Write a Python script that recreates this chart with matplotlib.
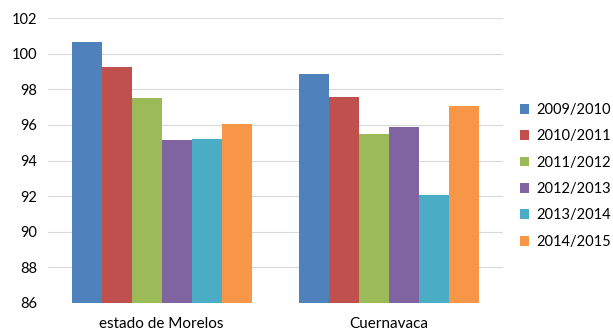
import matplotlib
matplotlib.use("Agg")
import matplotlib.pyplot as plt
import numpy as np

categories = ["estado de Morelos", "Cuernavaca"]
series = ["2009/2010", "2010/2011", "2011/2012", "2012/2013", "2013/2014", "2014/2015"]
values = {
    "2009/2010": [100.65, 98.83],
    "2010/2011": [99.24, 97.55],
    "2011/2012": [97.53, 95.47],
    "2012/2013": [95.14, 95.90],
    "2013/2014": [95.23, 92.05],
    "2014/2015": [96.06, 97.07],
}
colors = ["#4F81BD", "#C0504D", "#9BBB59", "#8064A2", "#4BACC6", "#F79646"]
yticks = [86, 88, 90, 92, 94, 96, 98, 100, 102]

plt.rcParams['font.family'] = ['Lato', 'DejaVu Sans']
fig = plt.figure(figsize=(6.13, 3.33), dpi=100)
ax = fig.add_axes([48/613, 1-303/333, 455/613, 285/333])

x = np.arange(len(categories))
w = 0.79/len(series)
for i, s in enumerate(series):
    ax.bar(x + (i - (len(series)-1)/2)*w, values[s], width=w, bottom=0,
           color=colors[i], label=s, zorder=3)

ax.set_ylim(86, 102)
ax.set_xlim(-0.5, 1.5)
ax.set_yticks(yticks)
ax.set_xticks(x)
ax.set_xticklabels(categories, fontsize=11)
ax.tick_params(axis='y', labelsize=10.5, length=0, pad=8)
ax.tick_params(axis='x', length=0, pad=10)
ax.grid(axis='y', color='#D9D9D9', linewidth=0.8, zorder=0)
for sp in ax.spines.values():
    sp.set_visible(False)

leg = fig.legend(loc='upper left', bbox_to_anchor=(514/613, 1-97/333), frameon=False,
                 fontsize=10.5, handlelength=0.65, handleheight=0.65, handletextpad=0.45,
                 labelspacing=0.85, borderaxespad=0)

fig.savefig("out.png", dpi=100)
